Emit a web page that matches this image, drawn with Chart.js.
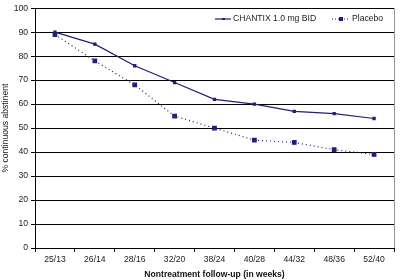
<!DOCTYPE html>
<html>
<head>
<meta charset="utf-8">
<script src="https://cdn.jsdelivr.net/npm/chart.js@4"></script>
<style>
  html, body { margin: 0; padding: 0; background: #fff; }
  #wrap { width: 400px; height: 280px; }
</style>
</head>
<body>
<div id="wrap"><canvas id="chart"></canvas></div>
<script>
// données
const weeks = ['25/13', '26/14', '28/16', '32/20', '38/24', '40/28', '44/32', '48/36', '52/40'];
const chantix = [90, 85, 76, 69, 62, 60, 57, 56, 54];
const placebo = [89, 78, 68, 55, 50, 45, 44, 41, 39];
const yTicks = [0, 10, 20, 30, 40, 50, 60, 70, 80, 90, 100];

const NAVY = '#1f1f78';
const FONT = "'Liberation Sans', Arial, sans-serif";

// légende dessinée dans la zone du graphique
const insideLegend = {
    id: 'insideLegend',
    afterDraw(chart) {
        const ctx = chart.ctx;
        const y = 19;
        ctx.save();
        ctx.font = '8.6px ' + FONT;
        ctx.fillStyle = '#222';
        ctx.textBaseline = 'middle';
        // CHANTIX
        ctx.strokeStyle = NAVY;
        ctx.lineWidth = 1.2;
        ctx.beginPath();
        ctx.moveTo(215, y);
        ctx.lineTo(231, y);
        ctx.stroke();
        ctx.fillStyle = NAVY;
        ctx.fillRect(222, y - 1, 3, 2);
        ctx.fillStyle = '#222';
        ctx.fillText(chart.data.datasets[0].label, 233, y);
        // Placebo
        ctx.strokeStyle = NAVY;
        ctx.setLineDash([1, 2]);
        ctx.beginPath();
        ctx.moveTo(332, y);
        ctx.lineTo(350, y);
        ctx.stroke();
        ctx.setLineDash([]);
        ctx.fillStyle = NAVY;
        ctx.fillRect(339, y - 2, 4, 4);
        ctx.fillStyle = '#222';
        ctx.fillText(chart.data.datasets[1].label, 352, y);
        // bord droit gris
        const a = chart.chartArea;
        ctx.strokeStyle = '#999';
        ctx.lineWidth = 1;
        ctx.beginPath();
        ctx.moveTo(a.right + 0.5, a.top);
        ctx.lineTo(a.right + 0.5, a.bottom);
        ctx.stroke();
        ctx.restore();
    }
};

new Chart(document.getElementById('chart'), {
    type: 'line',
    data: {
        labels: weeks,
        datasets: [
            {
                label: 'CHANTIX 1.0 mg BID',
                data: chantix,
                borderColor: NAVY,
                backgroundColor: NAVY,
                borderWidth: 1.2,
                pointStyle: 'rect',
                pointRadius: 1.5,
                tension: 0
            },
            {
                label: 'Placebo',
                data: placebo,
                borderColor: NAVY,
                backgroundColor: NAVY,
                borderWidth: 1.2,
                borderDash: [1, 3],
                pointStyle: 'rect',
                pointRadius: 2.5,
                tension: 0
            }
        ]
    },
    options: {
        responsive: true,
        maintainAspectRatio: false,
        animation: false,
        layout: { padding: { top: 7, right: 6, left: 0, bottom: 0 } },
        plugins: {
            legend: { display: false },
            tooltip: { enabled: false }
        },
        scales: {
            x: {
                offset: true,
                grid: { offset: true, drawOnChartArea: false, drawTicks: true, tickLength: 4, color: '#000' },
                border: { color: '#000' },
                ticks: { color: '#222', font: { family: FONT, size: 8.6 }, maxRotation: 0, padding: 2 },
                title: { display: true, text: 'Nontreatment follow-up (in weeks)', color: '#111', font: { family: FONT, size: 8.6, weight: 'bold' }, padding: { top: 1, bottom: 0 } },
                afterFit: (scale) => { scale.height = 32; }
            },
            y: {
                min: 0,
                max: 100,
                afterBuildTicks: (scale) => { scale.ticks = yTicks.map(v => ({ value: v })); },
                grid: { color: '#000', tickLength: 4 },
                border: { color: '#000' },
                ticks: { color: '#222', font: { family: FONT, size: 8.6 }, padding: 3 },
                title: { display: true, text: '% continuous abstinent', color: '#222', font: { family: FONT, size: 8.6 }, padding: { top: 0, bottom: 2 } },
                afterFit: (scale) => { scale.width = 35; }
            }
        }
    },
    plugins: [insideLegend]
});
</script>
</body>
</html>
